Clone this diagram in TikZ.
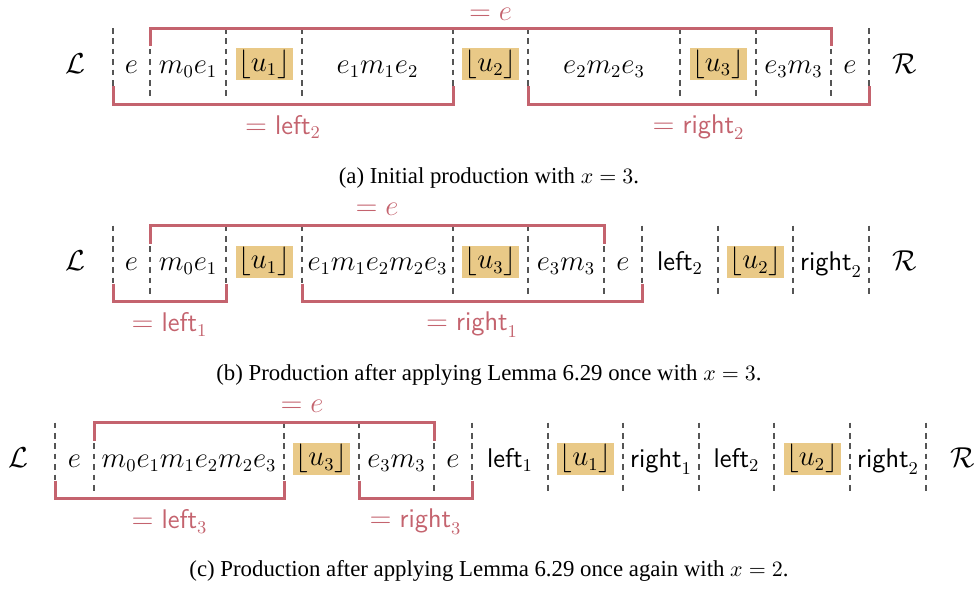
\documentclass[tikz,border=0pt]{standalone}
\usepackage{fontspec}
\newfontfamily\capfont{Liberation Serif}
\definecolor{brred}{HTML}{C4636E}
\definecolor{hly}{HTML}{E9C987}
\definecolor{sepgray}{HTML}{555555}
\newcommand{\cellfont}{\fontsize{13.5}{16}\selectfont}
\tikzset{
  cell/.style={font=\cellfont, anchor=base, inner sep=0pt},
  hl/.style={font=\cellfont, fill=hly, minimum width=28.5pt, minimum height=16pt, inner sep=0pt},
  sepline/.style={draw=sepgray, line width=0.6pt, dash pattern=on 2.8pt off 2.4pt},
  brk/.style={draw=brred, line width=1.5pt},
  lbl/.style={font=\cellfont, text=brred, inner sep=0pt},
  capt/.style={font=\capfont\fontsize{11.4}{13}\selectfont, inner sep=0pt}
}
\begin{document}
\begin{tikzpicture}[x=0.5pt,y=-0.5pt]
\useasboundingbox (0,0) rectangle (978,590);

% ---------------- (a) ----------------
\begin{scope}
  \foreach \xx in {113,150,226,302,453,528,680,756,831,869}
    \draw[sepline] (\xx,28) -- (\xx,100);
  \node[cell] (aL) at (75,73) {$\mathcal{L}$};
  \node[cell] (a1) at (131.5,73) {$e$};
  \node[cell] (a2) at (188,73) {$m_0e_1$};
  \node[hl]   (a3) at (264,64) {$\lfloor u_1\rfloor$};
  \node[cell] (a4) at (377.5,73) {$e_1m_1e_2$};
  \node[hl]   (a5) at (490.5,64) {$\lfloor u_2\rfloor$};
  \node[cell] (a6) at (604,73) {$e_2m_2e_3$};
  \node[hl]   (a7) at (718,64) {$\lfloor u_3\rfloor$};
  \node[cell] (a8) at (793.5,73) {$e_3m_3$};
  \node[cell] (a9) at (850,73) {$e$};
  \node[cell] (aR) at (905,73) {$\mathcal{R}$};
  \draw[brk] (150,46) |- (831,28) -- (831,46);
  \draw[brk] (113,86) |- (453,104) -- (453,86);
  \draw[brk] (528,86) |- (869,104) -- (869,86);
  \node[lbl] (aTop) at (490.5,14.5) {$=e$};
  \node[lbl] (aLeft) at (283,127) {$=\mathsf{left}_2$};
  \node[lbl] (aRight) at (698.5,127) {$=\mathsf{right}_2$};
  \node[capt] (aCap) at (489,178) {(a) Initial production with $x=3$.};
\end{scope}

% ---------------- (b) ----------------
\begin{scope}[shift={(0,197.5)}]
  \foreach \xx in {113,150,226,302,453,528,604,642,718,793,869}
    \draw[sepline] (\xx,28) -- (\xx,100);
  \node[cell] (bL) at (75,73) {$\mathcal{L}$};
  \node[cell] (b1) at (131.5,73) {$e$};
  \node[cell] (b2) at (188,73) {$m_0e_1$};
  \node[hl]   (b3) at (264,64) {$\lfloor u_1\rfloor$};
  \node[cell] (b4) at (377.5,73) {$e_1m_1e_2m_2e_3$};
  \node[hl]   (b5) at (490.5,64) {$\lfloor u_3\rfloor$};
  \node[cell] (b6) at (566,73) {$e_3m_3$};
  \node[cell] (b7) at (623,73) {$e$};
  \node[cell] (b8) at (680,73) {$\mathsf{left}_2$};
  \node[hl]   (b9) at (755.5,64) {$\lfloor u_2\rfloor$};
  \node[cell] (b10) at (831,73) {$\mathsf{right}_2$};
  \node[cell] (bR) at (905,73) {$\mathcal{R}$};
  \draw[brk] (150,46) |- (604,28) -- (604,46);
  \draw[brk] (113,86) |- (226,104) -- (226,86);
  \draw[brk] (302,86) |- (642,104) -- (642,86);
  \node[lbl] (bTop) at (377,12) {$=e$};
  \node[lbl] (bLeft) at (169.5,127) {$=\mathsf{left}_1$};
  \node[lbl] (bRight) at (472,127) {$=\mathsf{right}_1$};
  \node[capt] (bCap) at (489,177) {(b) Production after applying Lemma 6.29 once with $x=3$.};
\end{scope}

% ---------------- (c) ----------------
\begin{scope}[shift={(0,394.5)}]
  \foreach \xx in {55,94,284,359,434,472,548,623,699,774,850,926}
    \draw[sepline] (\xx,28) -- (\xx,100);
  \node[cell] (cL) at (18,73) {$\mathcal{L}$};
  \node[cell] (c1) at (74.5,73) {$e$};
  \node[cell] (c2) at (189,73) {$m_0e_1m_1e_2m_2e_3$};
  \node[hl]   (c3) at (321.5,64) {$\lfloor u_3\rfloor$};
  \node[cell] (c4) at (396.5,73) {$e_3m_3$};
  \node[cell] (c5) at (453,73) {$e$};
  \node[cell] (c6) at (510,73) {$\mathsf{left}_1$};
  \node[hl]   (c7) at (585.5,64) {$\lfloor u_1\rfloor$};
  \node[cell] (c8) at (661,73) {$\mathsf{right}_1$};
  \node[cell] (c9) at (736.5,73) {$\mathsf{left}_2$};
  \node[hl]   (c10) at (812,64) {$\lfloor u_2\rfloor$};
  \node[cell] (c11) at (888,73) {$\mathsf{right}_2$};
  \node[cell] (cR) at (963,73) {$\mathcal{R}$};
  \draw[brk] (94,46) |- (434,28) -- (434,46);
  \draw[brk] (55,86) |- (284,104) -- (284,86);
  \draw[brk] (359,86) |- (472,104) -- (472,86);
  \node[lbl] (cTop) at (302,12) {$=e$};
  \node[lbl] (cLeft) at (169.5,127) {$=\mathsf{left}_3$};
  \node[lbl] (cRight) at (415.5,127) {$=\mathsf{right}_3$};
  \node[capt] (cCap) at (489,176) {(c) Production after applying Lemma 6.29 once again with $x=2$.};
\end{scope}
\end{tikzpicture}
\end{document}
